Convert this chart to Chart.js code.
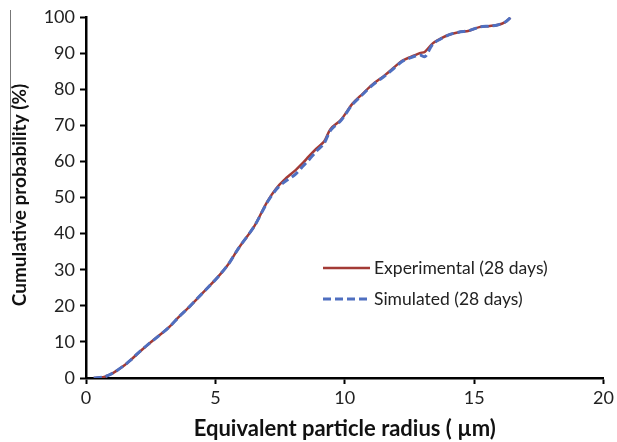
<!DOCTYPE html>
<html>
<head>
<meta charset="utf-8">
<script src="https://cdn.jsdelivr.net/npm/chart.js@4.4.0/dist/chart.umd.min.js"></script>
<style>
  html, body { margin: 0; padding: 0; background: #fff; }
  #wrap { width: 617px; height: 442px; }
</style>
</head>
<body>
<div id="wrap"><canvas id="sizeChart"></canvas></div>
<script>
// particle radius (um) vs cumulative probability (%)
var expRadius = [0.3, 0.7, 1.0, 1.2, 1.5, 1.7, 2.0, 2.4, 2.85, 3.2, 3.6, 3.95, 4.3, 4.65, 5.1, 5.5, 5.9, 6.5, 7.0, 7.35, 7.65, 8.1, 8.4, 8.6, 8.9, 9.2, 9.45, 9.85, 10.3, 10.7, 11.05, 11.55, 11.9, 12.2, 12.5, 12.9, 13.1, 13.4, 13.7, 14.0, 14.4, 14.8, 15.2, 15.6, 15.9, 16.2, 16.4];
var expProb   = [0, 0.3, 1.2, 2.1, 3.6, 4.8, 6.8, 9.3, 11.9, 14.0, 17.0, 19.4, 22.0, 24.6, 28.0, 31.5, 36.0, 42.0, 48.8, 52.5, 54.8, 57.6, 59.7, 61.3, 63.5, 65.5, 69.0, 71.5, 76.0, 78.8, 81.2, 83.9, 86.0, 87.8, 88.8, 90.0, 90.4, 92.7, 94.0, 95.0, 95.8, 96.2, 97.2, 97.5, 97.8, 98.6, 99.8];

var simRadius = [0.3, 0.7, 1.0, 1.2, 1.5, 1.7, 2.0, 2.4, 2.85, 3.2, 3.6, 3.95, 4.3, 4.65, 5.1, 5.5, 5.9, 6.5, 7.0, 7.35, 7.65, 8.1, 8.4, 8.6, 8.9, 9.2, 9.45, 9.85, 10.3, 10.7, 11.05, 11.55, 11.9, 12.2, 12.5, 12.9, 13.1, 13.4, 13.7, 14.0, 14.4, 14.8, 15.2, 15.6, 15.9, 16.2, 16.4];
var simProb   = [0, 0.3, 1.2, 2.1, 3.6, 4.8, 6.8, 9.3, 11.9, 14.0, 17.0, 19.4, 22.0, 24.6, 28.0, 31.5, 36.0, 42.0, 48.6, 52.2, 54.2, 56.5, 58.8, 60.3, 62.8, 65.0, 68.6, 71.3, 75.8, 78.6, 81.0, 83.7, 85.8, 87.6, 88.6, 89.5, 89.0, 92.5, 93.9, 95.0, 95.8, 96.2, 97.2, 97.5, 97.8, 98.6, 99.8];

var xTicks = [0, 5, 10, 15, 20];

function toPoints(xs, ys) {
  return xs.map(function (x, i) { return { x: x, y: ys[i] }; });
}

var fontFamily = "Lato, 'Liberation Sans', sans-serif";

// legend drawn inside the plot area, like the original
var innerLegend = {
  id: 'innerLegend',
  afterDraw: function (chart) {
    var ctx = chart.ctx;
    var x0 = 323, y0 = 268, rowGap = 31, lineLen = 47;
    chart.data.datasets.forEach(function (ds, i) {
      var y = y0 + i * rowGap;
      ctx.save();
      ctx.strokeStyle = ds.borderColor;
      ctx.lineWidth = ds.borderWidth;
      ctx.setLineDash(ds.borderDash || []);
      ctx.beginPath();
      ctx.moveTo(x0, y);
      ctx.lineTo(x0 + lineLen, y);
      ctx.stroke();
      ctx.setLineDash([]);
      ctx.fillStyle = '#222';
      ctx.font = '17.5px ' + fontFamily;
      ctx.textBaseline = 'middle';
      ctx.fillText(ds.label, x0 + lineLen + 4, y);
      ctx.restore();
    });
  }
};

// y title drawn by hand, plus the thin rule left of it seen in the figure
var yTitle = {
  id: 'yTitle',
  afterDraw: function (chart) {
    var ctx = chart.ctx;
    ctx.save();
    ctx.strokeStyle = '#777';
    ctx.lineWidth = 1;
    ctx.beginPath();
    ctx.moveTo(10.5, 10);
    ctx.lineTo(10.5, 223);
    ctx.stroke();
    ctx.translate(20, 195);
    ctx.rotate(-Math.PI / 2);
    ctx.fillStyle = '#111';
    ctx.font = 'bold 19px ' + fontFamily;
    ctx.textAlign = 'center';
    ctx.textBaseline = 'middle';
    ctx.fillText('Cumulative probability (%)', 0, 0);
    ctx.restore();
  }
};

var ctx = document.getElementById('sizeChart').getContext('2d');
var sizeChart = new Chart(ctx, {
  type: 'line',
  data: {
    datasets: [{
      label: 'Experimental (28 days)',
      data: toPoints(expRadius, expProb),
      borderColor: '#a33b36',
      borderWidth: 2.5,
      pointRadius: 0,
      tension: 0.3,
      fill: false,
      order: 2
    }, {
      label: 'Simulated (28 days)',
      data: toPoints(simRadius, simProb),
      borderColor: '#4f6fc0',
      borderWidth: 3,
      borderDash: [8, 4],
      pointRadius: 0,
      tension: 0.3,
      fill: false,
      order: 1
    }]
  },
  options: {
    responsive: true,
    maintainAspectRatio: false,
    animation: false,
    layout: { padding: { top: 17, right: 11, left: 0, bottom: 0 } },
    plugins: {
      legend: { display: false },
      tooltip: { enabled: false }
    },
    scales: {
      x: {
        type: 'linear',
        min: 0,
        max: 20,
        afterBuildTicks: function (scale) {
          scale.ticks = xTicks.map(function (v) { return { value: v }; });
        },
        afterFit: function (scale) { scale.height = 64; },
        border: { color: '#000', width: 2.5 },
        grid: { drawOnChartArea: false, color: '#000', tickLength: 6, tickWidth: 2 },
        ticks: { color: '#222', font: { family: fontFamily, size: 18 }, padding: 3, maxRotation: 0 },
        title: {
          display: true,
          text: 'Equivalent particle radius ( µm)',
          color: '#111',
          font: { family: fontFamily, size: 22, weight: 'bold' },
          padding: { top: 4, bottom: 0 }
        }
      },
      y: {
        min: 0,
        max: 100,
        ticks: { stepSize: 10, color: '#222', font: { family: fontFamily, size: 18 }, padding: 5 },
        afterFit: function (scale) { scale.width = 86; },
        border: { color: '#000', width: 2.5 },
        grid: { drawOnChartArea: false, color: '#000', tickLength: 6, tickWidth: 2 }
      }
    }
  },
  plugins: [innerLegend, yTitle]
});
</script>
</body>
</html>
